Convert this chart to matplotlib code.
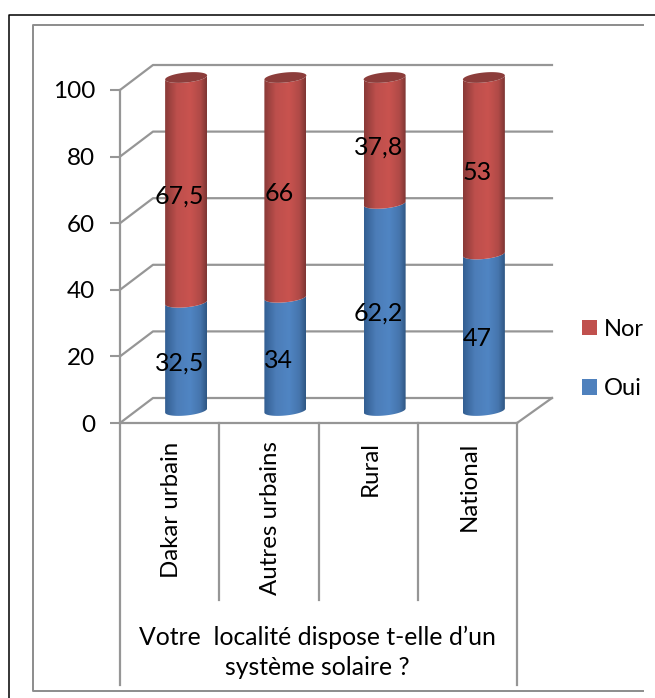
import numpy as np
import matplotlib
matplotlib.use("Agg")
import matplotlib.pyplot as plt
from matplotlib.colors import LinearSegmentedColormap
from matplotlib.patches import PathPatch, Patch, Polygon
from matplotlib.path import Path

plt.rcParams['font.family'] = ['Lato', 'DejaVu Sans']

categories = ["Dakar urbain", "Autres urbains", "Rural", "National"]
oui = [32.5, 34, 62.2, 47]
non = [67.5, 66, 37.8, 53]
oui_labels = ["32,5", "34", "62,2", "47"]
non_labels = ["67,5", "66", "37,8", "53"]
yticks = [0, 20, 40, 60, 80, 100]
legend_names = ["Nor", "Oui"]
title_lines = "Votre  localité dispose t-elle d’un\nsystème solaire ?"

W, H = 655, 698
GREY = "#969696"
fig = plt.figure(figsize=(W / 100, H / 100), dpi=100)


def px_box(x0, y0, x1, y1):
    # pixel box (y from the top) to figure fractions
    return [x0 / W, 1 - y1 / H, (x1 - x0) / W, (y1 - y0) / H]


# frames, in pixels
bg = fig.add_axes([0, 0, 1, 1])
bg.set_xlim(0, W)
bg.set_ylim(H, 0)
bg.axis("off")
bg.plot([8.5, 8.5, 655], [698, 14.5, 14.5], color="black", lw=1.1)
bg.plot([643, 32.5, 32.5, 643], [24.5, 24.5, 690.5, 690.5], color="#8c8c8c", lw=1.4)

ax = fig.add_axes(px_box(120, 90, 517, 423))
ax.set_xlim(0, 4)
ax.set_ylim(0, 100)
ax.patch.set_alpha(0)
for s in ax.spines.values():
    s.set_visible(False)

ux = 397 / 4    # px per x unit
uy = 333 / 100  # px per y unit
dx, dy = 33 / ux, 25 / uy  # depth of the box

# walls and floor
for v in yticks:
    ax.plot([0, dx, 4 + dx + 0.02], [v, v + dy, v + dy], color=GREY, lw=1.6, clip_on=False, zorder=1)
ax.plot([4, 4 + dx + 0.02], [0, dy], color=GREY, lw=1.6, clip_on=False, zorder=1)
ax.plot([0, 4], [0, 0], color=GREY, lw=1.6, clip_on=False, zorder=1)
ax.plot([0, 0], [0, 100], color=GREY, lw=1.6, clip_on=False, zorder=1)

ax.set_xticks([])
ax.set_yticks(yticks)
ax.set_yticklabels([str(v) for v in yticks], fontsize=17.5, color="black")
ax.tick_params(axis="y", length=7, width=1.5, color=GREY, pad=11)

# category table under the axis
for i in range(5):
    low = -262 / 3.33 if i in (0, 4) else -177 / 3.33
    ax.plot([i, i], [0, low], color=GREY, lw=1.6, clip_on=False, zorder=1)
for i, c in enumerate(categories):
    ax.text(i + 0.52, -5.5, c, rotation=90, ha="center", va="top", fontsize=17.3, clip_on=False)
ax.text(1.99, -68.8, title_lines, ha="center", va="center", fontsize=17.8, linespacing=1.37, clip_on=False)

red_map = LinearSegmentedColormap.from_list("r", [(0, "#8a3a38"), (0.28, "#bd4f4c"), (0.6, "#c9534f"), (0.85, "#b04a47"), (1, "#7f3634")])
blue_map = LinearSegmentedColormap.from_list("b", [(0, "#335f92"), (0.28, "#4c7db8"), (0.6, "#5085c3"), (0.85, "#4675ad"), (1, "#2f5784")])
shade = np.linspace(0, 1, 64).reshape(1, -1)

# cylinder shape, sizes in axis units
a = 21 / ux
b = 5 / uy
tilt = 4 / uy / (2 * a)


def rim(cx, cy, t):
    return cx + a * np.cos(t), cy + b * np.sin(t) + tilt * a * np.cos(t)


def draw_part(cx, y0, y1, cmap):
    # body between two front rims, shaded across its width
    t = np.linspace(np.pi, 2 * np.pi, 40)
    xb, yb = rim(cx, y0, t)
    xt, yt = rim(cx, y1, t[::-1])
    verts = np.column_stack([np.r_[xb, xt], np.r_[yb, yt]])
    patch = PathPatch(Path(np.vstack([verts, verts[0]]), closed=True), transform=ax.transData, fc="none", ec="none",
                      clip_on=False)
    ax.add_patch(patch)
    img = ax.imshow(shade, extent=[cx - a, cx + a, y0 - 2 * b, y1 + 2 * b], aspect="auto",
                    cmap=cmap, vmin=0, vmax=1, zorder=3)
    img.set_clip_box(fig.bbox)
    img.set_clip_path(patch)


for i in range(4):
    cx = i + 0.5 + dx / 2
    base = dy / 2
    draw_part(cx, base, base + oui[i], blue_map)
    draw_part(cx, base + oui[i], base + oui[i] + non[i], red_map)
    t = np.linspace(0, 2 * np.pi, 60)
    xe, ye = rim(cx, base + oui[i] + non[i], t)
    ax.add_patch(Polygon(np.column_stack([xe, ye]), closed=True, fc="#8c3d3b", ec="none", zorder=4, clip_on=False))
    tx = i + 0.5 + 10 / ux
    ax.text(tx, oui[i] / 2 + 1.8, oui_labels[i], ha="center", va="center", fontsize=18, zorder=5, clip_on=False)
    ax.text(tx, oui[i] + non[i] / 2 + 1.8, non_labels[i], ha="center", va="center", fontsize=18, zorder=5, clip_on=False)

ax.set_xlim(0, 4)
ax.set_ylim(0, 100)

handles = [Patch(fc="#c0504d", ec="none"), Patch(fc="#4f81bd", ec="none")]
fig.legend(handles, legend_names, loc="center left", bbox_to_anchor=(582 / W, 1 - 359 / H), frameon=False,
           fontsize=17, handlelength=0.62, handleheight=0.62, handletextpad=0.3, labelspacing=1.63,
           borderpad=0, borderaxespad=0)

fig.savefig("out.png", dpi=100)
